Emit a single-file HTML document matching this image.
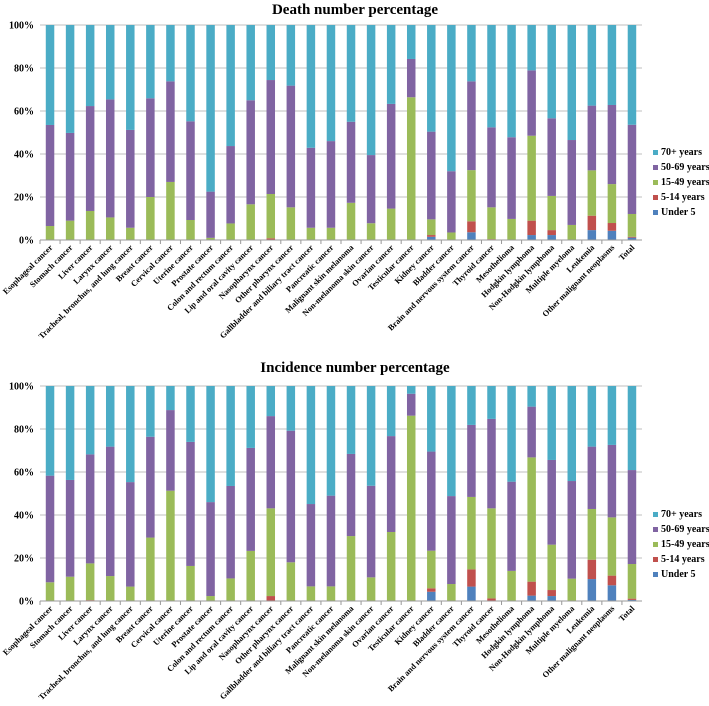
<!DOCTYPE html>
<html><head><meta charset="utf-8"><style>
html,body{margin:0;padding:0;background:#fff;}
svg{display:block;font-family:"Liberation Serif",serif;}
</style></head><body>
<svg id="chart" width="709" height="706" viewBox="0 0 709 706" xmlns="http://www.w3.org/2000/svg"></svg>
<script>
const categories = ["Esophageal cancer","Stomach cancer","Liver cancer","Larynx cancer","Tracheal, bronchus, and lung cancer","Breast cancer","Cervical cancer","Uterine cancer","Prostate cancer","Colon and rectum cancer","Lip and oral cavity cancer","Nasopharynx cancer","Other pharynx cancer","Gallbladder and biliary tract cancer","Pancreatic cancer","Malignant skin melanoma","Non-melanoma skin cancer","Ovarian cancer","Testicular cancer","Kidney cancer","Bladder cancer","Brain and nervous system cancer","Thyroid cancer","Mesothelioma","Hodgkin lymphoma","Non-Hodgkin lymphoma","Multiple myeloma","Leukemia","Other malignant neoplasms","Total"];
const seriesNames = ["Under 5","5-14 years","15-49 years","50-69 years","70+ years"];
const tickLabels = ["0%","20%","40%","60%","80%","100%"];
const tickValues = [0,20,40,60,80,100];
// Death (segment percentages; 70+ is remainder)
const deathUnder5 = [0,0,0,0,0,0,0,0,0,0,0,0,0,0,0,0,0,0,0,1.5,0,3.6,0,0,2.3,2.3,0,4.6,4.3,1.1];
const death5to14 = [0,0,0,0,0,0,0,0,0,0,0,0.8,0,0,0,0,0,0,0,0.8,0,5.1,0.4,0,6.7,2.3,0,6.7,3.6,0.4];
const death15to49 = [6.5,9,13.5,10.5,5.7,20,27,9.3,1,7.7,16.6,20.6,15.2,5.7,5.7,17.3,7.8,14.6,66.4,7.3,3.5,23.8,14.8,9.8,39.5,15.9,7,21.1,18.1,10.6];
const death50to69 = [47,40.8,48.8,54.9,45.5,45.9,46.8,45.9,21.5,36,48.4,53,56.6,37.2,40.3,37.7,31.7,48.7,17.8,40.8,28.5,41.3,37.2,38,30.4,36.1,39.5,30.1,36.8,41.5];
// Incidence
const incUnder5 = [0,0,0,0,0,0,0,0,0,0,0,0,0,0,0,0,0,0,0,4.3,0,6.7,0,0,2.5,2.3,0,10.2,7.3,0.5];
const inc5to14 = [0,0,0.4,0,0,0,0,0,0,0,0,2.3,0,0,0,0,0,0,0,1.6,0,8,1.2,0,6.5,2.8,0,9,4.5,0.6];
const inc15to49 = [8.7,11.3,17.1,11.6,6.7,29.5,51.3,16.3,2.3,10.5,23.3,40.8,18,6.8,6.8,30.2,11,32.1,86.2,17.5,7.9,33.7,41.9,14,57.8,21.1,10.4,23.6,27.1,16.1];
const inc50to69 = [49.6,45,50.7,60.2,48.6,46.9,37.5,57.7,43.7,43,47.9,42.9,61.2,38.3,42.2,38.2,42.6,44.6,10.2,46.1,40.9,33.5,41.6,41.5,23.6,39.4,45.4,29,33.7,43.7];

const colors = ["#4f81bd","#c0504d","#9bbb59","#8064a2","#4bacc6"];
const NS = "http://www.w3.org/2000/svg";
const svg = document.getElementById('chart');
function mk(tag, attrs, parent){const e=document.createElementNS(NS,tag);for(const k in attrs)e.setAttribute(k,attrs[k]);(parent||svg).appendChild(e);return e;}

function drawChart(prefix, title, titleY, top, bottom, segs, legendY){
  const x0=40, x1=642, n=categories.length, band=(x1-x0)/n, bw=8.5;
  const xScale = i => x0 + band*(i+0.5);
  const yScale = v => bottom - (bottom-top)*v/100;
  const g = mk('g',{});
  
  
  const t = mk('text',{x:355,y:titleY,'text-anchor':'middle','font-size':'15','font-weight':'bold',fill:'#000'},g);
  t.textContent = title;
  
  
  tickValues.forEach((v,k)=>{
    const y=yScale(v);
    if(v>0){const l=mk('line',{x1:x0,x2:x1,y1:y,y2:y,stroke:'#bfbfbf','stroke-width':1},g);
      
      }
    const tl=mk('text',{x:34,y:y+3.5,'text-anchor':'end','font-size':'10','font-weight':'bold',fill:'#000'},g);
    tl.textContent=tickLabels[k];
    
    
  });
  categories.forEach((c,i)=>{
    let cum=0;
    const vals=segs.map(a=>a[i]);
    const rest=100-vals.reduce((a,b)=>a+b,0);
    vals.concat([rest]).forEach((v,s)=>{
      if(v<=0)return;
      const r=mk('rect',{x:xScale(i)-bw/2,y:yScale(cum+v),width:bw,height:yScale(cum)-yScale(cum+v),fill:colors[s]},g);
      
      
      cum+=v;
    });
    const tk=mk('line',{x1:x0+band*i,x2:x0+band*i,y1:bottom,y2:bottom+4,stroke:'#999'},g);
    
    
    const lx=xScale(i)+3, ly=bottom+8;
    const lab=mk('text',{x:lx,y:ly,'text-anchor':'end','font-size':'8.3','font-weight':'bold',fill:'#000',transform:`rotate(-45 ${lx} ${ly})`},g);
    lab.textContent=c;
    
    
  });
  const ax=mk('line',{x1:x0,x2:x1,y1:bottom,y2:bottom,stroke:'#999'},g);
  
  
  for(let s=4;s>=0;s--){
    const y=legendY+(4-s)*15;
    const it=mk('g',{},g);
    
    
    mk('rect',{x:653,y:y-5,width:5,height:5,fill:colors[s]},it);
    const lt=mk('text',{x:661,y:y,'font-size':'10','font-weight':'bold',fill:'#000'},it);
    lt.textContent=seriesNames[s];
  }
}
drawChart('death','Death number percentage',14,25,240,[deathUnder5,death5to14,death15to49,death50to69],155);
drawChart('incidence','Incidence number percentage',372,386,601,[incUnder5,inc5to14,inc15to49,inc50to69],517);
</script>
</body></html>
